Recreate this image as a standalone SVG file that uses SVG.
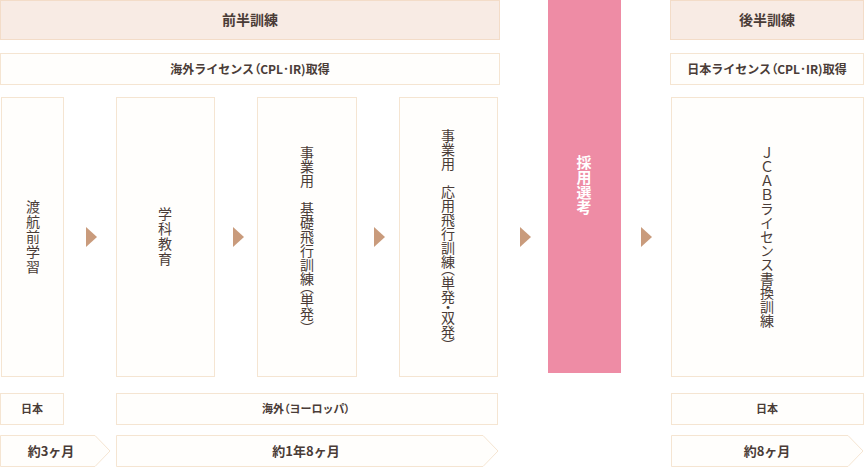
<svg xmlns="http://www.w3.org/2000/svg" width="864" height="467" viewBox="0 0 864 467">
<style>
.hdr{fill:#f8ebe4;stroke:#f3dcc8;stroke-width:1}
.box{fill:#fffefc;stroke:#f5e5d2;stroke-width:1}
.t{font-family:"Noto Sans CJK JP","Noto Sans",sans-serif;fill:#4a3c37;text-anchor:middle}
.b{font-weight:bold}
.v{writing-mode:vertical-rl;font-size:14px;dominant-baseline:central}
.ph{font-feature-settings:"palt"}
.pv{font-feature-settings:"vpal"}
.arr{fill:#c99b7c}
</style>
<rect width="864" height="467" fill="#ffffff"/>
<g id="header-first">
<rect class="hdr" x="0.5" y="0.5" width="499" height="39"/>
<text class="t b" x="250" y="25" font-size="14">前半訓練</text>
</g>
<g id="license-first">
<rect class="box" x="0.5" y="53.5" width="499" height="31"/>
<text class="t b" x="250" y="74" font-size="12">海外ライセンス<tspan class="ph">（</tspan>CPL･IR)取得</text>
</g>
<g id="header-second">
<rect class="hdr" x="670.5" y="0.5" width="193" height="39"/>
<text class="t b" x="767" y="25" font-size="14">後半訓練</text>
</g>
<g id="license-second">
<rect class="box" x="670.5" y="53.5" width="193" height="31"/>
<text class="t b" x="767" y="74" font-size="12">日本ライセンス<tspan class="ph">（</tspan>CPL･IR)取得</text>
</g>
<g id="step1">
<rect class="box" x="1.5" y="97.5" width="62" height="279"/>
<text class="t v" x="33" y="237" letter-spacing="1">渡航前学習</text>
</g>
<g id="step2">
<rect class="box" x="116.5" y="97.5" width="98" height="279"/>
<text class="t v" x="165" y="237" letter-spacing="1">学科教育</text>
</g>
<g id="step3">
<rect class="box" x="257.5" y="97.5" width="99" height="279"/>
<text class="t v" x="307" y="237">事業用　基礎飛行訓練<tspan class="pv">（</tspan>単発<tspan class="pv">）</tspan></text>
</g>
<g id="step4">
<rect class="box" x="399.5" y="97.5" width="98" height="279"/>
<text class="t v" x="448" y="237">事業用　応用飛行訓練<tspan class="pv">（</tspan>単発<tspan class="pv">・</tspan>双発<tspan class="pv">）</tspan></text>
</g>
<g id="selection">
<rect x="548" y="0" width="73" height="373" fill="#ee8ca5"/>
<text class="t b v" x="584" y="185" style="fill:#ffffff;font-size:15px">採用選考</text>
</g>
<g id="step5">
<rect class="box" x="671.5" y="97.5" width="192" height="279"/>
<text class="t v" x="767" y="237">ＪＣＡＢライセンス書換訓練</text>
</g>
<g id="connectors">
<polygon class="arr" points="86,227 97,237 86,247"/>
<polygon class="arr" points="233,227 244,237 233,247"/>
<polygon class="arr" points="374,227 385,237 374,247"/>
<polygon class="arr" points="520,227 531,237 520,247"/>
<polygon class="arr" points="641,227 652,237 641,247"/>
</g>
<g id="loc-japan1">
<rect class="box" x="0.5" y="393.5" width="63" height="31"/>
<text class="t b" x="32" y="413" font-size="11">日本</text>
</g>
<g id="loc-europe">
<rect class="box" x="116.5" y="393.5" width="381" height="31"/>
<text class="t b" x="306" y="413" font-size="11">海外<tspan class="ph">（</tspan>ヨーロッパ<tspan class="ph">）</tspan></text>
</g>
<g id="loc-japan2">
<rect class="box" x="671.5" y="393.5" width="192" height="31"/>
<text class="t b" x="767" y="413" font-size="11">日本</text>
</g>
<g id="dur1">
<polygon class="box" points="0.5,435.5 95,435.5 110,451 95,466.5 0.5,466.5"/>
<text class="t b" x="51" y="456" font-size="13">約3ヶ月</text>
</g>
<g id="dur2">
<polygon class="box" points="116.5,435.5 483,435.5 498,451 483,466.5 116.5,466.5"/>
<text class="t b" x="306" y="456" font-size="13">約1年8ヶ月</text>
</g>
<g id="dur3">
<polygon class="box" points="671.5,435.5 848,435.5 863,451 848,466.5 671.5,466.5"/>
<text class="t b" x="767" y="456" font-size="13">約8ヶ月</text>
</g>
</svg>
